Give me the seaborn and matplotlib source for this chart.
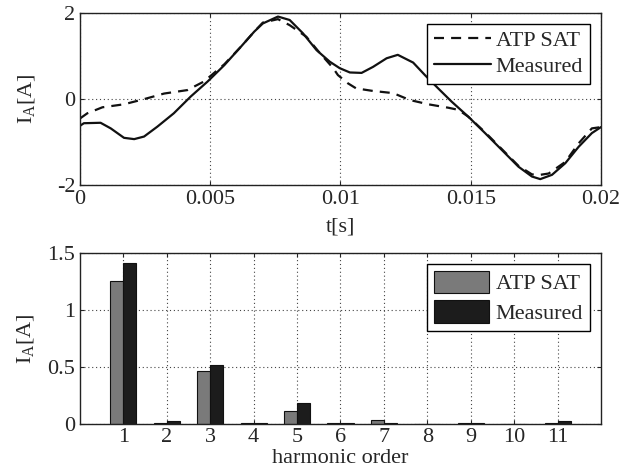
import numpy as np
import pandas as pd
import matplotlib
matplotlib.use("Agg")
import matplotlib.pyplot as plt
import seaborn as sns

# time in ms, current in A
t_meas = [0.0, 0.15, 0.79, 1.18, 1.69, 2.08, 2.46, 2.97, 3.6, 4.25, 4.9, 5.54, 6.18,
          6.69, 7.02, 7.6, 8.05, 8.56, 9.08, 9.59, 9.97, 10.36, 10.81, 11.25, 11.77,
          12.2, 12.79, 13.24, 13.75, 14.27, 14.91, 15.55, 16.19, 16.83, 17.35, 17.67,
          18.12, 18.63, 19.14, 19.65, 20.0]
i_meas = [-0.63, -0.57, -0.56, -0.69, -0.91, -0.94, -0.88, -0.65, -0.34, 0.05, 0.40,
          0.78, 1.21, 1.56, 1.75, 1.91, 1.83, 1.52, 1.13, 0.86, 0.71, 0.61, 0.60, 0.74,
          0.94, 1.02, 0.84, 0.55, 0.24, -0.07, -0.42, -0.80, -1.19, -1.58, -1.81, -1.87,
          -1.77, -1.50, -1.12, -0.80, -0.66]

t_atp = [0.0, 0.28, 0.86, 1.69, 2.46, 3.23, 4.12, 4.76, 5.54, 6.18, 6.69, 7.02, 7.6,
         8.05, 8.69, 9.21, 9.72, 9.9, 10.28, 10.6, 11.25, 12.02, 12.66, 13.37, 14.14,
         14.53, 14.91, 15.55, 16.19, 16.83, 17.35, 17.67, 17.99, 18.63, 19.14, 19.65, 20.0]
i_atp = [-0.46, -0.34, -0.20, -0.13, -0.01, 0.12, 0.20, 0.40, 0.80, 1.21, 1.56, 1.77,
         1.85, 1.71, 1.44, 1.06, 0.71, 0.55, 0.36, 0.24, 0.18, 0.13, -0.03, -0.13, -0.21,
         -0.26, -0.42, -0.78, -1.17, -1.56, -1.76, -1.77, -1.74, -1.47, -1.04, -0.69, -0.66]

harmonics = list(range(1, 12))
h_atp = [1.25, 0.01, 0.47, 0.01, 0.113, 0.01, 0.04, 0.005, 0.01, 0.005, 0.01]
h_meas = [1.41, 0.03, 0.515, 0.01, 0.19, 0.015, 0.01, 0.005, 0.015, 0.005, 0.03]

sns.set_style("ticks")
plt.rcParams["font.family"] = ["Liberation Serif", "DejaVu Serif"]
plt.rcParams["mathtext.fontset"] = "custom"
plt.rcParams["mathtext.rm"] = "Liberation Serif"
plt.rcParams["mathtext.it"] = "Liberation Serif:italic"
plt.rcParams["font.size"] = 16
plt.rcParams["xtick.direction"] = "in"
plt.rcParams["ytick.direction"] = "in"
plt.rcParams["xtick.top"] = True
plt.rcParams["ytick.right"] = True
plt.rcParams["xtick.major.size"] = 3
plt.rcParams["ytick.major.size"] = 3
plt.rcParams["xtick.major.pad"] = 4
plt.rcParams["axes.linewidth"] = 1.0
plt.rcParams["axes.edgecolor"] = "#222222"

wave = pd.concat([
    pd.DataFrame({"t": np.array(t_atp) / 1000, "i": i_atp, "series": "ATP SAT"}),
    pd.DataFrame({"t": np.array(t_meas) / 1000, "i": i_meas, "series": "Measured"}),
])
harm = pd.concat([
    pd.DataFrame({"h": harmonics, "amp": h_atp, "series": "ATP SAT"}),
    pd.DataFrame({"h": harmonics, "amp": h_meas, "series": "Measured"}),
])

fig = plt.figure(figsize=(6.22, 4.70), dpi=100)
ax1 = fig.add_axes([0.1286, 0.607, 0.8376, 0.366])
ax2 = fig.add_axes([0.1286, 0.0972, 0.8376, 0.365])

grid_kw = dict(color="#444444", linestyle=(0, (1, 2.5)), linewidth=0.8)

# waveform
sns.lineplot(data=wave, x="t", y="i", style="series", style_order=["ATP SAT", "Measured"],
             dashes={"ATP SAT": (4.5, 3.2), "Measured": ""}, color="#111111",
             linewidth=1.6, estimator=None, sort=False, ax=ax1)
ax1.set_xlim(0, 0.02)
ax1.set_ylim(-2, 2)
ax1.set_xticks([0, 0.005, 0.01, 0.015, 0.02])
ax1.set_xticklabels(["0", "0.005", "0.01", "0.015", "0.02"])
ax1.set_yticks([-2, 0, 2])
ax1.set_yticklabels(["-2", "0", "2"])
ax1.grid(True, **grid_kw)
ax1.set_xlabel("t[s]", labelpad=6)
ax1.set_ylabel(r"I$_\mathrm{A}$[A]", labelpad=14)
leg1 = ax1.legend(title=None, loc="upper right", frameon=True, fancybox=False,
                  edgecolor="black", framealpha=1, handlelength=2.6,
                  handletextpad=0.2, borderpad=0.3, labelspacing=0.25,
                  borderaxespad=0.5, fontsize=16)
leg1.get_frame().set_linewidth(1.0)

# harmonics
sns.barplot(data=harm, x="h", y="amp", hue="series", hue_order=["ATP SAT", "Measured"],
            palette=["#7a7a7a", "#1c1c1c"], native_scale=True, width=0.6,
            edgecolor="#111111", linewidth=0.8, saturation=1, ax=ax2)
ax2.set_xlim(0, 12)
ax2.set_ylim(0, 1.5)
ax2.set_xticks(harmonics)
ax2.set_xticklabels([str(h) for h in harmonics])
ax2.tick_params(axis="x", pad=3)
ax2.set_yticks([0, 0.5, 1, 1.5])
ax2.set_yticklabels(["0", "0.5", "1", "1.5"])
ax2.grid(True, **grid_kw)
ax2.set_axisbelow(True)
ax2.set_xlabel("harmonic order", labelpad=1)
ax2.set_ylabel(r"I$_\mathrm{A}$[A]", labelpad=8)
leg2 = ax2.legend(title=None, loc="upper right", frameon=True, fancybox=False,
                  edgecolor="black", framealpha=1, handlelength=2.5, handleheight=1.2,
                  handletextpad=0.3, borderpad=0.3, labelspacing=0.25,
                  borderaxespad=0.5, fontsize=16)
leg2.get_frame().set_linewidth(1.0)

fig.savefig("out.png", dpi=100)
